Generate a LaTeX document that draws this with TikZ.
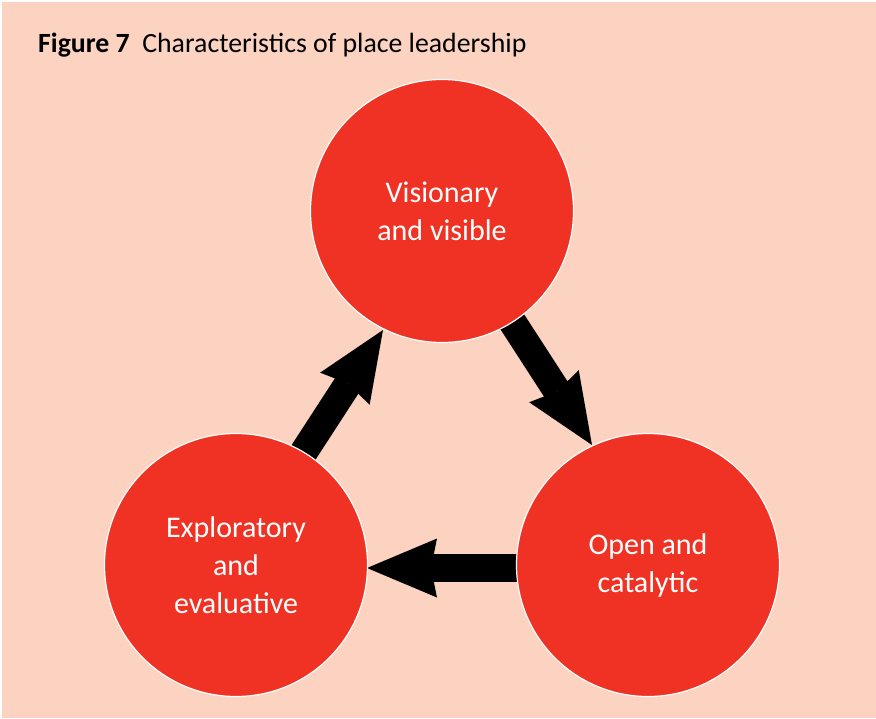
\documentclass[tikz,border=0pt]{standalone}
\usepackage{fontspec}
\setmainfont{Carlito}
\usetikzlibrary{arrows.meta}
\definecolor{bgpeach}{RGB}{252,211,193}
\definecolor{circred}{RGB}{239,50,36}
\begin{document}
\begin{tikzpicture}[x=1pt,y=-1pt,
  bigcirc/.style={circle,fill=circred,draw=white,line width=1.2pt,minimum size=263pt,inner sep=0pt,text=white,font=\fontsize{30}{38}\selectfont,align=center},
  blockarrow/.style={line width=28pt,-{Stealth[length=70pt,width=59pt,inset=6pt,line width=0pt]}}]
\useasboundingbox (0,0) rectangle (876,718);
\fill[bgpeach] (2,2) rectangle (876,718);
\node[anchor=base west,font=\fontsize{27.8}{32}\selectfont,inner sep=0pt] (title) at (38,52) {\textbf{Figure 7}\hspace{0.45em}Characteristics of place leadership};
% arrows
\coordinate (a1s) at (296,464);
\coordinate (a1e) at (383,330);
\coordinate (a2s) at (504,309);
\coordinate (a2e) at (592,445);
\coordinate (a3s) at (530,568);
\coordinate (a3e) at (367,568);
\draw[blockarrow] (a1s) -- (a1e);
\draw[blockarrow] (a2s) -- (a2e);
\draw[blockarrow] (a3s) -- (a3e);
% circles
\node[bigcirc] (top) at (442,211) {Visionary\\and visible};
\node[bigcirc] (left) at (236,565) {Exploratory\\and\\evaluative};
\node[bigcirc] (right) at (648,565) {Open and\\catalytic};
\end{tikzpicture}
\end{document}
